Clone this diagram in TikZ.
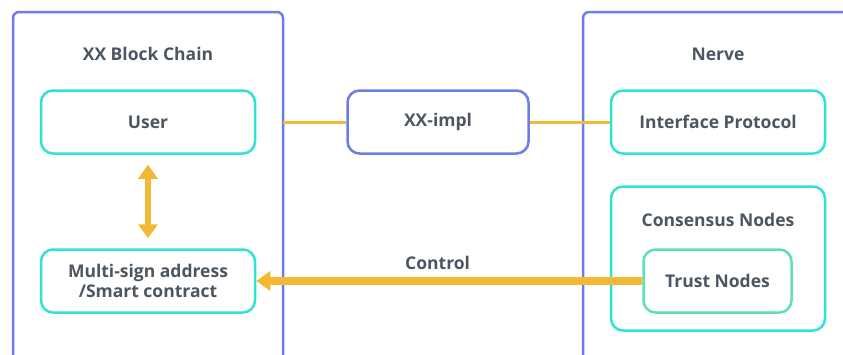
\documentclass[tikz,border=0pt]{standalone}
\usepackage{fontspec}
\setmainfont{Open Sans}
\usetikzlibrary{positioning, arrows.meta}

\definecolor{frameblue}{HTML}{6A7EE6}
\definecolor{boxteal}{HTML}{2EE3D3}
\definecolor{trustgreen}{HTML}{5EE0B4}
\definecolor{linkorange}{HTML}{F2B935}
\definecolor{textgray}{HTML}{4C5661}

\begin{document}
\begin{tikzpicture}[x=1pt, y=-1pt, >=Stealth,
        font=\bfseries\fontsize{17.5}{19.5}\selectfont, text=textgray,
        frame/.style={draw=frameblue, line width=2.5pt, rounded corners=6pt},
        box/.style={draw=boxteal, line width=2.5pt, rounded corners=12pt,
            minimum width=214pt, minimum height=63pt, align=center},
        link/.style={draw=linkorange, line width=3pt},
        bigarrow/.style={draw=linkorange, line width=7.5pt,
            -{Triangle[length=14pt, width=19pt]}}]
            \useasboundingbox (0,0) rectangle (843,354);
            \clip (0,0) rectangle (843,354);

            % outer frames, open at the bottom
            \draw[frame] (13,380) -- (13,12) -- (283,12) -- (283,380);
            \draw[frame] (583,380) -- (583,12) -- (880,12);

            \node (chain) at (148,54) {XX Block Chain};
            \node (nerve) at (718,54) {Nerve};

            % left side
            \node[box] (user) at (148,122) {User};
            \node[box] (multisig) at (148,281) {Multi-sign address\\/Smart contract};

            % middle
            \node[box, draw=frameblue, minimum width=181pt] (impl) at (438,122) {XX-impl};

            % right side
            \node[box] (iface) at (718,122) {Interface Protocol};
            \node[box, minimum height=144pt] (consensus) at (718,258.5) {};
            \node (consname) at (718,220) {Consensus Nodes};
            \node[box, draw=trustgreen, minimum width=148pt] (trust) at (717.5,281) {Trust Nodes};

            % links
            \draw[link] (283,122) -- (impl.west);
            \draw[link] (impl.east) -- (iface.west);

            \path (user.south) ++(0,10) coordinate (ua);
            \path (multisig.north) ++(0,-10) coordinate (ma);
            \draw[bigarrow, {Triangle[length=14pt, width=19pt]}-{Triangle[length=14pt, width=19pt]}, line width=6.5pt]
                (ua) -- (ma);

            \draw[bigarrow] (trust.west) -- (multisig.east)
                node[pos=0.53, above=4pt] (ctrl) {Control};
        \end{tikzpicture}
\end{document}
